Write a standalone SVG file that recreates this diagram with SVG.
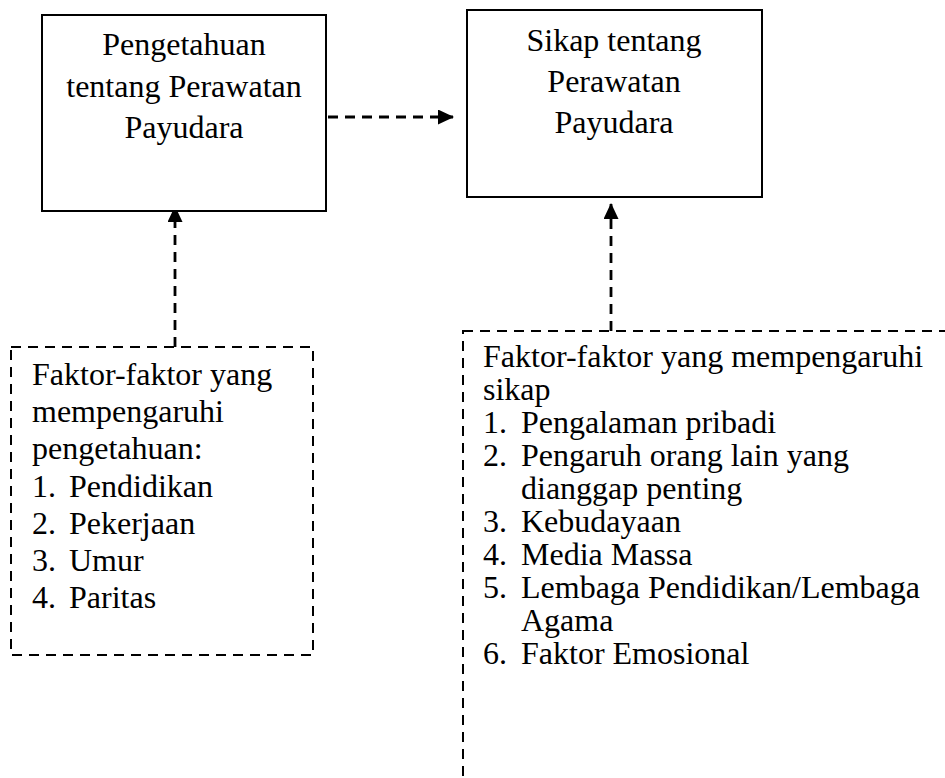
<svg xmlns="http://www.w3.org/2000/svg" width="945" height="778" viewBox="0 0 945 778">
<style>
.box{fill:#fff;stroke:#000;stroke-width:2}
.dbox{fill:none;stroke:#000;stroke-width:2;stroke-dasharray:10,7}
.conn{fill:none;stroke:#000;stroke-width:2.8;stroke-dasharray:10,7}
text{font-family:"Liberation Serif","Times New Roman",serif;font-size:32px;fill:#000}
.c{text-anchor:middle}
</style>
<defs>
<marker id="ah" viewBox="0 0 16 15" refX="15" refY="7.5" markerWidth="16" markerHeight="15" markerUnits="userSpaceOnUse" orient="auto">
<path d="M0,0 L16,7.5 L0,15 Z" fill="#000"/>
</marker>
</defs>
<g id="connectors">
<line class="conn" x1="328" y1="117" x2="453" y2="117" marker-end="url(#ah)"/>
<line class="conn" x1="175" y1="347" x2="175" y2="207" marker-end="url(#ah)"/>
<line class="conn" x1="611" y1="331" x2="611" y2="204" marker-end="url(#ah)"/>
</g>
<g id="pengetahuan">
<rect class="box" x="42" y="15" width="284" height="196"/>
<text class="c" x="184" y="55">Pengetahuan</text>
<text class="c" x="184" y="97">tentang Perawatan</text>
<text class="c" x="184" y="138">Payudara</text>
</g>
<g id="sikap">
<rect class="box" x="467" y="10" width="295" height="187"/>
<text class="c" x="614" y="51">Sikap tentang</text>
<text class="c" x="614" y="92">Perawatan</text>
<text class="c" x="614" y="133">Payudara</text>
</g>
<g id="faktor-pengetahuan">
<rect class="dbox" x="11" y="347" width="302" height="308"/>
<text x="32" y="385">Faktor-faktor yang</text>
<text x="32" y="422">mempengaruhi</text>
<text x="32" y="459">pengetahuan:</text>
<text x="32" y="497">1.</text><text x="69" y="497">Pendidikan</text>
<text x="32" y="534">2.</text><text x="69" y="534">Pekerjaan</text>
<text x="32" y="571">3.</text><text x="69" y="571">Umur</text>
<text x="32" y="608">4.</text><text x="69" y="608">Paritas</text>
</g>
<g id="faktor-sikap">
<rect class="dbox" x="463" y="331" width="600" height="600"/>
<text x="483" y="367">Faktor-faktor yang mempengaruhi</text>
<text x="483" y="400">sikap</text>
<text x="483" y="433">1.</text><text x="521" y="433">Pengalaman pribadi</text>
<text x="483" y="466">2.</text><text x="521" y="466">Pengaruh orang lain yang</text>
<text x="521" y="499">dianggap penting</text>
<text x="483" y="532">3.</text><text x="521" y="532">Kebudayaan</text>
<text x="483" y="565">4.</text><text x="521" y="565">Media Massa</text>
<text x="483" y="598">5.</text><text x="521" y="598">Lembaga Pendidikan/Lembaga</text>
<text x="521" y="631">Agama</text>
<text x="483" y="664">6.</text><text x="521" y="664">Faktor Emosional</text>
</g>
</svg>
